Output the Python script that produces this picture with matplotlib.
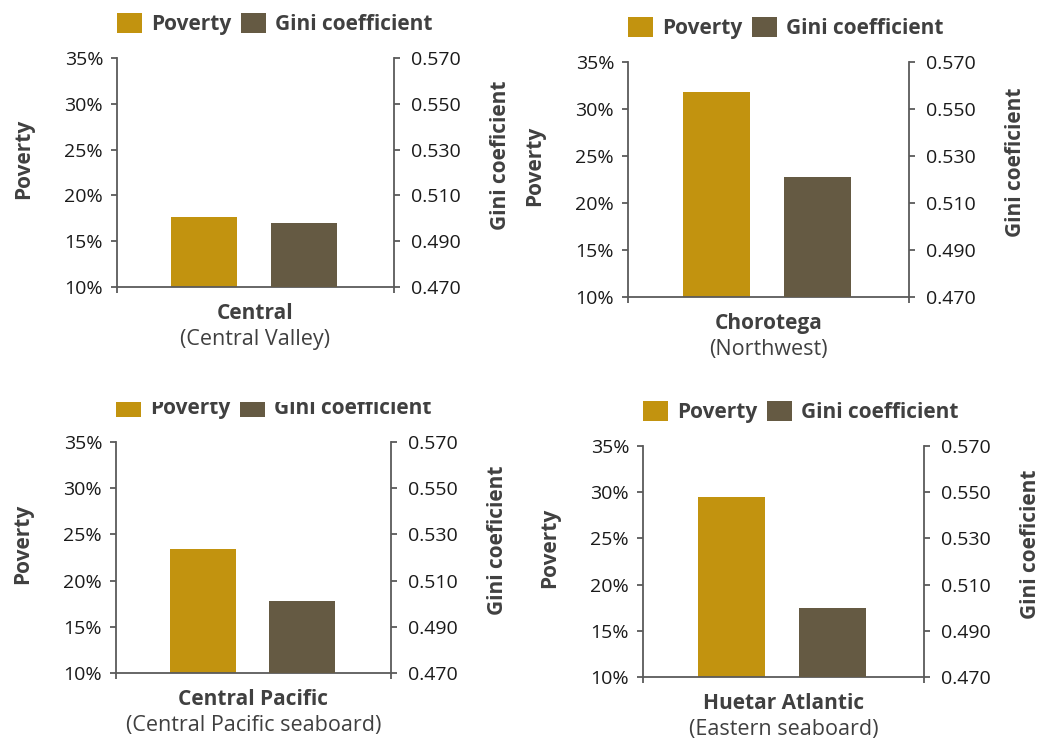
import matplotlib.pyplot as plt
from matplotlib.patches import Rectangle

# Poverty rate and Gini coefficient by planning region
regions = ["Central", "Chorotega", "Central Pacific", "Huetar Atlantic"]
subtitles = ["(Central Valley)", "(Northwest)", "(Central Pacific seaboard)", "(Eastern seaboard)"]
poverty = [17.6, 31.8, 23.4, 29.5]
gini = [0.498, 0.521, 0.501, 0.500]

pov_ticks = [10, 15, 20, 25, 30, 35]
gini_ticks = [0.470, 0.490, 0.510, 0.530, 0.550, 0.570]

GOLD = "#C2930F"
BROWN = "#655A43"
SPINE = "#5a5a5a"
TEXT = "#404040"

plt.rcParams['font.family'] = ['Open Sans', 'DejaVu Sans']

W, H = 1054, 740
fig = plt.figure(figsize=(W / 100, H / 100), dpi=100)

# axes boxes in pixels: left, top, right, bottom
boxes = [(117, 58, 394, 287), (628, 62, 909, 297),
         (116, 442, 391, 673), (643, 446, 924, 677)]

for i, (l, t, r, b) in enumerate(boxes):
    w, h = r - l, b - t
    ax = fig.add_axes([l / W, (H - b) / H, w / W, h / H])
    ax2 = ax.twinx()

    b1 = ax.bar(-0.185, poverty[i], width=0.24, color=GOLD, label="Poverty")
    b2 = ax2.bar(0.175, gini[i], width=0.24, color=BROWN, label="Gini coefficient")

    ax.set_xlim(-0.5, 0.5)
    ax.set_ylim(pov_ticks[0], pov_ticks[-1])
    ax2.set_ylim(gini_ticks[0], gini_ticks[-1])
    ax.set_yticks(pov_ticks)
    ax.set_yticklabels([f"{v}%" for v in pov_ticks])
    ax2.set_yticks(gini_ticks)
    ax2.set_yticklabels([f"{v:.3f}" for v in gini_ticks])
    ax.set_xticks([-0.5, 0.5])
    ax.set_xticklabels([])

    for a in (ax, ax2):
        a.spines['top'].set_visible(False)
        for s in ('left', 'right', 'bottom'):
            a.spines[s].set_color(SPINE)
            a.spines[s].set_linewidth(1.3)
    ax.spines['right'].set_visible(False)
    ax2.spines['left'].set_visible(False)
    ax2.spines['bottom'].set_visible(False)

    ax.tick_params(axis='y', length=4, width=1.3, color=SPINE, pad=6,
                   labelsize=14, labelcolor='#1a1a1a')
    ax.tick_params(axis='x', length=4, width=1.3, color=SPINE)
    ax2.tick_params(axis='y', length=4, width=1.3, color=SPINE, pad=8,
                    labelsize=14, labelcolor='#1a1a1a')

    # rotated labels are anchored on their inner edge
    ax.set_ylabel("Poverty", fontsize=15, fontweight='bold', color=TEXT)
    ax.yaxis.set_label_coords(-83 / w, 0.56)
    ax2.set_ylabel("Gini coeficient", fontsize=15, fontweight='bold', color=TEXT)
    ax2.yaxis.set_label_coords(1 + 96 / w, 0.575)

    ax.annotate(regions[i], xy=(0.5, 0), xycoords='axes fraction',
                xytext=(0, -19), textcoords='offset points',
                ha='center', va='center', fontsize=15, fontweight='bold', color=TEXT)
    ax.annotate(subtitles[i], xy=(0.5, 0), xycoords='axes fraction',
                xytext=(0, -37.5), textcoords='offset points',
                ha='center', va='center', fontsize=15.5, color=TEXT)

    leg = ax.legend(handles=[b1, b2], loc='lower left', ncol=2,
                    bbox_to_anchor=(0, 1 + 23 / h), borderaxespad=0,
                    borderpad=0, frameon=False, handlelength=1.2, handleheight=1.15,
                    handletextpad=0.45, columnspacing=0.45,
                    prop={'size': 15, 'weight': 'bold'})
    for txt in leg.get_texts():
        txt.set_color(TEXT)

# the lower-left panel's legend sits partly under the strip above it
fig.add_artist(Rectangle((0, (H - 401.5) / H), 525 / W, 40 / H,
                         transform=fig.transFigure, facecolor='white',
                         edgecolor='none', zorder=10))

fig.savefig("out.png", dpi=100, facecolor='white')
